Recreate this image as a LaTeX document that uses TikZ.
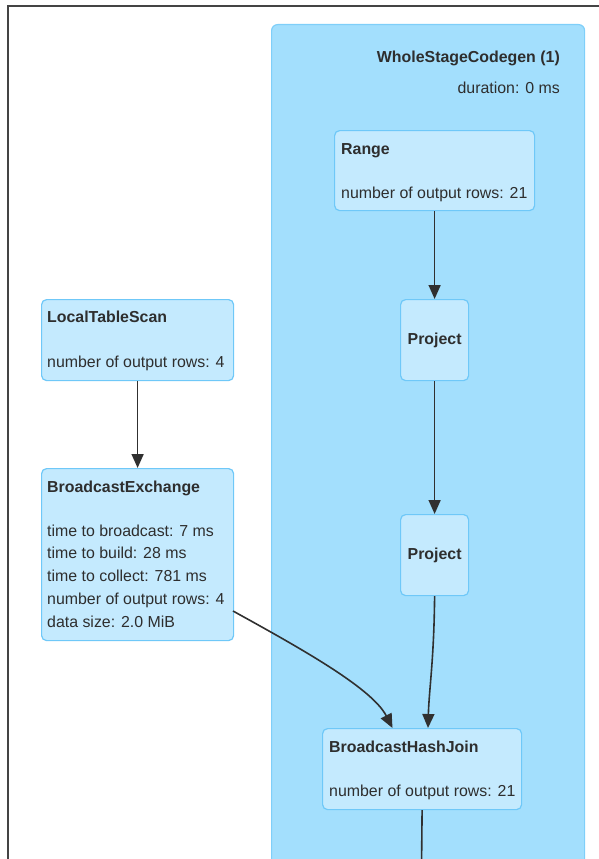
\documentclass[tikz,border=0pt]{standalone}
\usepackage{fontspec}
\setmainfont{Liberation Sans}
\usetikzlibrary{arrows.meta}
\definecolor{frameclr}{HTML}{444444}
\definecolor{clusterfill}{HTML}{A3DFFD}
\definecolor{clusterline}{HTML}{7FCFF9}
\definecolor{nodefill}{HTML}{C4EAFE}
\definecolor{nodeline}{HTML}{6FC8F8}
\definecolor{ink}{HTML}{2E2E2E}
\definecolor{edgeclr}{HTML}{303030}
\tikzset{
  cluster/.style={draw=clusterline, fill=clusterfill, line width=1.2pt,
    rounded corners=6pt, inner sep=0pt, anchor=north west},
  opbox/.style={draw=nodeline, fill=nodefill, line width=1.2pt,
    rounded corners=5pt, inner sep=0pt, anchor=north west},
  txt/.style={text=ink, inner sep=0pt, anchor=base west,
    font=\fontsize{15.9}{18}\selectfont},
  ttl/.style={txt, font=\fontsize{15.9}{18}\selectfont\bfseries},
  flow/.style={draw=edgeclr, line width=1.6pt,
    -{Triangle[length=14pt,width=12pt]}},
  plainflow/.style={draw=edgeclr, line width=1.6pt},
  frameline/.style={draw=frameclr, line width=2.4pt}
}
\begin{document}
\begin{tikzpicture}[x=1pt,y=-1pt]
\useasboundingbox (0,0) rectangle (599,859);
\clip (0,0) rectangle (599,859);

% outer frame (top and left edges)
\draw[frameline] (8,870) -- (8,6) -- (610,6);

% code generation stage
\node[cluster, minimum width=313pt, minimum height=900pt] (wsc) at (271,24) {};
\node[ttl, anchor=base east] (wscT) at (560,63) {WholeStageCodegen (1)};
\node[txt, anchor=base east] (wscD) at (560,93) {duration: 0 ms};

% Range
\node[opbox, minimum width=200pt, minimum height=80pt] (range) at (334,130) {};
\node[ttl] (rangeT) at (341,154) {Range};
\node[txt] (rangeR) at (341,198) {number of output rows: 21};

% Project operators
\node[opbox, minimum width=68pt, minimum height=81pt,
  font=\fontsize{15.9}{18}\selectfont\bfseries, text=ink] (proj1) at (400,299) {Project};
\node[opbox, minimum width=68pt, minimum height=81pt,
  font=\fontsize{15.9}{18}\selectfont\bfseries, text=ink] (proj2) at (400,514) {Project};

% LocalTableScan
\node[opbox, minimum width=192pt, minimum height=81pt] (lts) at (41,299) {};
\node[ttl] (ltsT) at (47,322) {LocalTableScan};
\node[txt] (ltsR) at (47,367) {number of output rows: 4};

% BroadcastExchange
\node[opbox, minimum width=192pt, minimum height=172pt] (bex) at (41,468) {};
\node[ttl] (bexT) at (47,492) {BroadcastExchange};
\foreach \t [count=\i] in {time to broadcast: 7 ms, time to build: 28 ms,
    time to collect: 781 ms, number of output rows: 4, data size: 2.0 MiB}
  \node[txt] (bexL\i) at (47,{536+22.75*(\i-1)}) {\t};

% BroadcastHashJoin
\node[opbox, minimum width=199pt, minimum height=81pt] (bhj) at (322,728) {};
\node[ttl] (bhjT) at (329,752) {BroadcastHashJoin};
\node[txt] (bhjR) at (329,796) {number of output rows: 21};

% connectors
\coordinate (bexOut) at (233,611);
\coordinate (bhjInA) at (392.5,728);
\coordinate (bhjInB) at (428,728);
\coordinate (bhjDown) at (421.5,870);

\draw[flow] (range.south) -- (proj1.north);
\draw[flow] (proj1.south) -- (proj2.north);
\draw[flow] (lts.south) -- (bex.north);
\draw[flow] (proj2.south) .. controls (434,660) and (429,690) .. (bhjInB);
\draw[flow] (bexOut) .. controls (300,648) and (372,688) .. (bhjInA);
\draw[plainflow] (bhj.south) -- (bhjDown);
\end{tikzpicture}
\end{document}
